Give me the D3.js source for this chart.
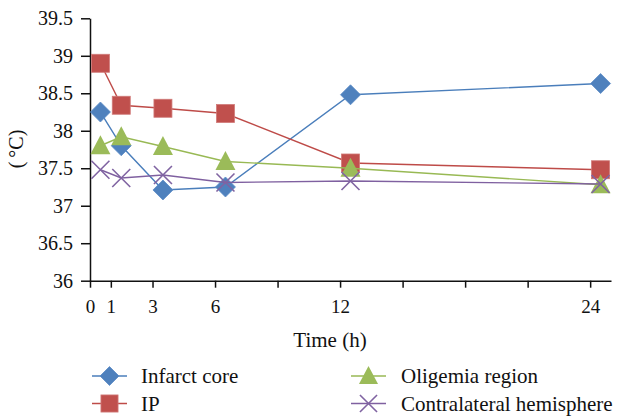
<!DOCTYPE html>
<html>
<head>
<meta charset="utf-8">
<script src="https://cdn.jsdelivr.net/npm/d3@7"></script>
<style>
  html, body { margin: 0; padding: 0; background: #fff; }
  svg { display: block; }
</style>
</head>
<body>
<svg id="chart" width="617" height="417" font-family="'Liberation Serif', 'Times New Roman', serif"></svg>
<script>
// ---- data ----
const timesH = [0.5, 1.5, 3.5, 6.5, 12.5, 24.5];
const seriesNames = ["Infarct core", "IP", "Oligemia region", "Contralateral hemisphere"];
const infarctCore = [38.25, 37.80, 37.21, 37.25, 38.48, 38.63];
const ipValues = [38.90, 38.34, 38.30, 38.23, 37.57, 37.48];
const oligemiaRegion = [37.80, 37.92, 37.79, 37.59, 37.50, 37.28];
const contralateral = [37.48, 37.37, 37.41, 37.31, 37.33, 37.29];
const xTickValues = [0, 1, 3, 6, 9, 12, 15, 18, 21, 24];
const xTickLabels = [0, 1, 3, 6, 12, 24];
const yTickValues = [36, 36.5, 37, 37.5, 38, 38.5, 39, 39.5];

const FONT = "'Liberation Serif', 'Times New Roman', serif";
const colors = {
  "Infarct core": { fill: "#4F81BD", line: "#4A7EBB", shape: "diamond" },
  "IP": { fill: "#C0504D", line: "#BE4B48", shape: "square" },
  "Oligemia region": { fill: "#9BBB59", line: "#98B954", shape: "triangle" },
  "Contralateral hemisphere": { fill: "#8064A2", line: "#7F60A0", shape: "cross" }
};
const valuesByName = {
  "Infarct core": infarctCore,
  "IP": ipValues,
  "Oligemia region": oligemiaRegion,
  "Contralateral hemisphere": contralateral
};

const svg = d3.select("#chart");
const x = d3.scaleLinear().domain([0, 25]).range([90, 611]);
const y = d3.scaleLinear().domain([36, 39.5]).range([280.7, 18.3]);

// axes
const yAxis = d3.axisLeft(y).tickValues(yTickValues).tickSize(9).tickSizeOuter(0)
  .tickPadding(8).tickFormat(d => String(d));
const gy = svg.append("g").attr("transform", "translate(90,0)").call(yAxis)
  .attr("font-family", FONT).attr("font-size", 20);
gy.selectAll("text").attr("fill", "#111");
gy.selectAll("line, path").attr("stroke", "#111").attr("stroke-width", 1.5);

const xAxis = d3.axisBottom(x).tickValues(xTickValues).tickSize(7).tickSizeOuter(0)
  .tickPadding(12).tickFormat(d => xTickLabels.includes(d) ? String(d) : "");
const gx = svg.append("g").attr("transform", "translate(0,280.7)").call(xAxis)
  .attr("font-family", FONT).attr("font-size", 19);
gx.selectAll("text").attr("fill", "#111");
gx.selectAll("line, path").attr("stroke", "#111").attr("stroke-width", 1.5);

// axis titles
svg.append("text").attr("x", 330).attr("y", 347).attr("font-family", FONT)
  .attr("text-anchor", "middle").attr("font-size", 21).attr("fill", "#111").text("Time (h)");
svg.append("text").attr("transform", "translate(23,149) rotate(-90)").attr("font-family", FONT)
  .attr("text-anchor", "middle").attr("font-size", 20).attr("fill", "#111").text("(\u2009°C)");

function drawMarker(g, shape, cx, cy, c, scale) {
  const s = scale || 1;
  if (shape === "diamond") {
    const h = 10 * s;
    g.append("path").attr("d", `M${cx},${cy - h}L${cx + h},${cy}L${cx},${cy + h}L${cx - h},${cy}Z`)
      .attr("fill", c.fill).attr("stroke", "#5C8CC6").attr("stroke-width", 0.8);
  } else if (shape === "square") {
    const h = 9 * s;
    g.append("rect").attr("x", cx - h).attr("y", cy - h).attr("width", 2 * h).attr("height", 2 * h)
      .attr("fill", c.fill).attr("stroke", "#D07A78").attr("stroke-width", 0.8);
  } else if (shape === "triangle") {
    const w = 10 * s, hh = 19 * s;
    g.append("path").attr("d", `M${cx},${cy - hh * 0.55}L${cx + w},${cy + hh * 0.45}L${cx - w},${cy + hh * 0.45}Z`)
      .attr("fill", c.fill);
  } else {
    const h = 9 * s;
    g.append("path").attr("d", `M${cx - h},${cy - h}L${cx + h},${cy + h}M${cx - h},${cy + h}L${cx + h},${cy - h}`)
      .attr("stroke", c.fill).attr("stroke-width", 1.6).attr("fill", "none");
  }
}

const line = d3.line().x((d, i) => x(timesH[i])).y(d => y(d));
seriesNames.forEach(name => {
  const c = colors[name];
  const vals = valuesByName[name];
  const g = svg.append("g");
  g.append("path").attr("d", line(vals)).attr("fill", "none")
    .attr("stroke", c.line).attr("stroke-width", 1.4);
  vals.forEach((v, i) => drawMarker(g, c.shape, x(timesH[i]), y(v), c));
});

// legend
const legendPos = [
  { lx: 92, tx: 141, cy: 376 },
  { lx: 92, tx: 141, cy: 403.5 },
  { lx: 351, tx: 401, cy: 376 },
  { lx: 351, tx: 401, cy: 403.5 }
];
seriesNames.forEach((name, i) => {
  const p = legendPos[i];
  const c = colors[name];
  const g = svg.append("g");
  g.append("line").attr("x1", p.lx).attr("x2", p.lx + 35).attr("y1", p.cy).attr("y2", p.cy)
    .attr("stroke", c.line).attr("stroke-width", 1.4);
  drawMarker(g, c.shape, p.lx + 17.5, p.cy, c, 0.95);
  g.append("text").attr("x", p.tx).attr("y", p.cy + 7).attr("font-family", FONT)
    .attr("font-size", 21).attr("fill", "#111").text(name);
});
</script>
</body>
</html>
